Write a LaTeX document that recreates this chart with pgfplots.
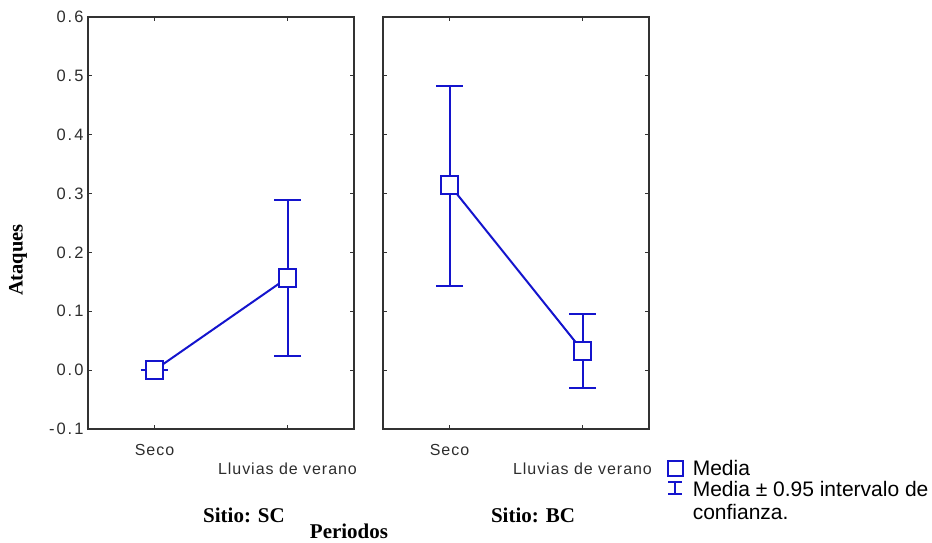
\documentclass[border=0pt]{standalone}
\usepackage{fontspec}
\setmainfont{Liberation Sans}
\newfontfamily\serifb{Liberation Serif}
\usepackage{pgfplots}
\usepackage{pgfplotstable}
\pgfplotsset{compat=1.18}
\definecolor{mblue}{RGB}{20,20,205}
\definecolor{axgray}{RGB}{50,50,50}
\definecolor{txtgray}{RGB}{45,45,45}

\pgfplotstableread{
x y ep em
0 0 0 0
1 0.157 0.132 0.133
}\sctab
\pgfplotstableread{
x y ep em
0 0.315 0.167 0.172
1 0.033 0.062 0.063
}\bctab

\pgfplotsset{
  panel/.style={
    scale only axis, width=266pt, height=412pt, anchor=south west,
    xmin=-0.5, xmax=1.5, ymin=-0.1, ymax=0.6,
    xtick={0,1}, ytick={-0.1,0,0.1,0.2,0.3,0.4,0.5,0.6},
    tick align=inside, major tick length=4pt,
    axis line style={axgray, line width=1.2pt},
    every tick/.style={axgray, line width=1pt},
    /pgf/number format/assume math mode=true,
    yticklabel style={font=\fontsize{16.5}{19}\selectfont\addfontfeature{LetterSpace=12}, text=txtgray, xshift=-1pt,
      /pgf/number format/.cd, fixed, fixed zerofill, precision=1},
    xticklabel style={font=\fontsize{16}{19}\selectfont\addfontfeature{LetterSpace=6}, text=txtgray, anchor=base, yshift=-26pt},
    xticklabels={Seco,{\raisebox{-19pt}{Lluvias de verano}}},
    clip=false,
  },
  meanplot/.style={
    mblue, line width=2pt, mark=square*,
    mark options={fill=white, line width=2pt, mark size=8.8pt, solid},
    error bars/.cd, y dir=both, y explicit,
    error bar style={line width=2pt, mblue},
    error mark options={rotate=90, line width=2pt, mblue, mark size=13.5pt},
  },
}

\begin{document}
\begin{tikzpicture}
\path[use as bounding box] (0,0) rectangle (932pt,542pt);
\begin{axis}[panel, at={(88pt,113pt)}]
\addplot[meanplot] table[x=x, y=y, y error plus=ep, y error minus=em]{\sctab};
\end{axis}
\begin{axis}[panel, at={(383pt,113pt)}, yticklabels={},
  legend style={at={(axis description cs:1.066,-0.07)}, anchor=north west, draw=none, fill=none,
    font=\fontsize{21}{22.5}\selectfont, row sep=1pt, inner sep=0pt,
    cells={anchor=west, align=left},
    /tikz/every odd column/.append style={column sep=7pt}},
  legend cell align=left]
\addplot[forget plot, meanplot] table[x=x, y=y, y error plus=ep, y error minus=em]{\bctab};
\addlegendimage{legend image code/.code={\draw[mblue,line width=2pt] (0pt,-7.5pt) rectangle (15pt,7.5pt);}}
\addlegendentry{Media}
\addlegendimage{legend image code/.code={\draw[mblue,line width=2pt] (7.5pt,7pt)--(7.5pt,19pt) (0.5pt,19pt)--(14.5pt,19pt) (0.5pt,7pt)--(14.5pt,7pt);}}
\addlegendentry{Media ± 0.95 intervalo de\\confianza.}
\end{axis}
\node[rotate=90, font=\serifb\bfseries\fontsize{20.5}{23}\selectfont] at (18pt,282pt) {Ataques};
\node[inner sep=0pt, font=\serifb\bfseries\fontsize{21}{24}\selectfont] at (244pt,27pt) {Sitio: SC};
\node[inner sep=0pt, font=\serifb\bfseries\fontsize{21}{24}\selectfont] at (533pt,27pt) {Sitio: BC};
\node[inner sep=0pt, font=\serifb\bfseries\fontsize{21}{24}\selectfont] at (349pt,11pt) {Periodos};
\end{tikzpicture}
\end{document}
